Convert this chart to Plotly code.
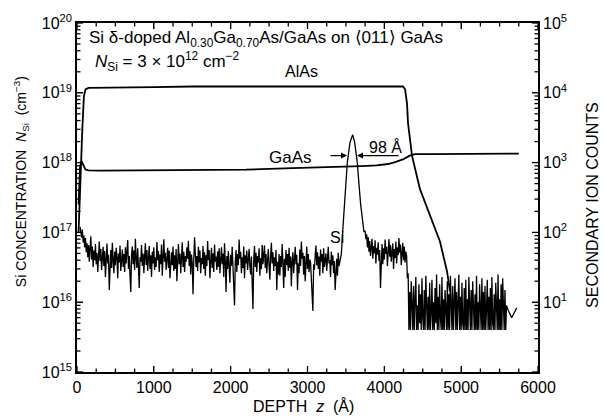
import math
import plotly.graph_objects as go

# ---------------- data ----------------
# AlAs secondary-ion profile (depth in Angstrom, log10 of equivalent concentration)
alas_z = [20, 45, 70, 90, 110, 150, 300, 600, 1000, 1500, 2000, 2500, 3000, 3500, 3800,
          4000, 4200, 4243, 4270, 4295, 4308, 4360, 4464, 4594, 4724, 4816, 4854]
alas_log = [17.0, 17.9, 18.5, 18.95, 19.05, 19.07, 19.07, 19.08, 19.08, 19.09, 19.09, 19.10,
            19.10, 19.10, 19.09, 19.10, 19.10, 19.09, 19.05, 18.85, 18.57, 18.10, 17.62,
            17.25, 16.87, 16.44, 16.16]

# GaAs secondary-ion profile
gaas_z = [20, 40, 60, 80, 110, 150, 300, 800, 1500, 2200, 2800, 3200, 3500, 3700, 3900,
          4050, 4150, 4250, 4330, 4400, 4600, 5000, 5300, 5500, 5750]
gaas_log = [17.4, 17.95, 18.02, 17.98, 17.90, 17.89, 17.885, 17.89, 17.90, 17.90, 17.92,
            17.93, 17.94, 17.95, 17.96, 17.98, 18.01, 18.05, 18.10, 18.12, 18.12, 18.12,
            18.13, 18.12, 18.13]

# Si concentration, units of 1e16 cm^-3
si_left_z0, si_left_step = 40, 10          # 40 ... 3430 A
si_left = [12, 10.5, 8.4, 11, 7.2, 9.0, 6.1, 8.3, 5.2, 7.0, 4.4, 6.6, 3.8, 5.9, 8.8, 4.1, 6.3, 3.2, 5.5, 4.0,
           6.8, 3.5, 5.1, 2.7, 4.6, 7.4, 3.9, 5.8, 2.9, 4.9, 6.2, 3.3, 5.4, 2.3, 4.2, 6.9, 3.6, 4.8, 1.5, 3.9,
           5.6, 3.1, 7.1, 4.0, 2.6, 5.3, 3.4, 6.0, 4.5, 2.2, 5.0, 3.7, 6.5, 2.8, 4.3, 5.7, 3.2, 4.9, 2.7, 6.1,
           3.6, 5.2, 7.8, 3.0, 4.6, 2.4, 1.4, 4.8, 6.3, 3.5, 5.5, 2.9, 8.1, 4.2, 3.1, 5.9, 2.5, 1.6, 4.4, 3.8,
           6.6, 3.3, 5.0, 2.6, 4.5, 7.0, 3.4, 5.6, 2.8, 4.1, 6.4, 3.0, 4.7, 2.3, 5.3, 3.6, 6.1, 2.9, 4.4, 3.2,
           7.3, 4.0, 5.4, 2.7, 4.8, 3.5, 6.7, 2.4, 4.3, 8.0, 3.8, 5.1, 2.9, 4.6, 6.0, 3.1, 5.5, 2.2, 4.0, 5.2,
           3.4, 6.3, 2.8, 4.7, 3.0, 5.8, 2.0, 4.4, 6.8, 3.5, 5.0, 2.6, 4.1, 7.2, 3.2, 5.3, 2.7, 4.6, 3.8, 6.1,
           4.2, 7.6, 3.3, 5.4, 2.5, 4.8, 3.6, 1.3, 4.1, 8.5, 5.0, 3.2, 4.6, 2.8, 6.2, 3.7, 5.5, 2.6, 4.3, 3.5,
           6.4, 3.0, 5.2, 2.4, 4.7, 3.3, 7.5, 4.0, 5.6, 2.2, 3.9, 6.0, 3.1, 5.0, 2.7, 6.7, 3.8, 4.5, 2.9, 5.3,
           3.2, 5.9, 2.6, 4.4, 6.1, 3.5, 5.0, 2.3, 7.0, 3.9, 1.4, 4.6, 3.0, 5.4, 2.4, 1.9, 4.8, 3.3, 6.2, 3.6,
           1.7, 0.9, 3.8, 5.6, 2.7, 4.9, 3.4, 7.9, 4.2, 5.3, 2.6, 4.4, 3.1, 6.3, 2.2, 4.7, 3.6, 5.5, 2.9, 4.0,
           5.8, 3.3, 2.5, 4.5, 1.8, 0.8, 4.0, 6.4, 3.2, 5.1, 2.7, 4.6, 3.7, 5.9, 2.4, 4.3, 3.0, 6.6, 3.5, 4.8,
           6.5, 3.1, 4.9, 2.6, 4.2, 5.8, 3.4, 2.1, 4.5, 7.1, 3.6, 5.2, 2.8, 4.4, 3.3, 5.6, 1.5, 3.8, 2.5, 4.9,
           2.4, 4.6, 3.2, 6.8, 3.7, 1.6, 4.2, 2.3, 5.6, 3.4, 4.9, 2.8, 6.0, 3.1, 4.5, 1.7, 3.9, 5.2, 2.6, 4.3,
           6.2, 3.5, 4.8, 1.5, 3.6, 2.6, 5.7, 3.3, 7.4, 4.2, 5.1, 2.5, 4.6, 2.0, 3.8, 6.3, 3.0, 4.9, 2.7, 4.1,
           3.7, 2.2, 1.2, 0.75, 3.5, 2.9, 4.7, 6.5, 3.4, 5.2, 3.0, 4.5, 2.4, 5.7, 3.8, 4.9, 2.6, 5.9, 3.2, 4.4,
           5.0, 2.8, 4.6, 6.2, 3.6, 4.0, 2.3, 5.3, 3.4, 4.7, 2.6, 3.9, 1.5, 3.0, 4.2, 2.4, 5.1, 3.3, 4.0, 4.4]
si_peak_z = [3440, 3466, 3497, 3518, 3553, 3588, 3614, 3648, 3675, 3692, 3735]
si_peak = [4.9, 14, 42, 100, 195, 250, 195, 100, 42, 25, 10.2]
si_mid_z0, si_mid_step = 3750, 10          # 3750 ... 4300 A
si_mid = [10.5, 8.0, 9.4, 6.1, 8.6, 5.3, 7.5, 4.6, 6.9, 8.1, 4.2, 6.4, 5.0, 7.7, 3.6, 6.0, 4.8, 7.2, 3.9, 5.6,
          1.6, 4.4, 6.8, 3.5, 5.9, 4.1, 7.9, 4.9, 6.3, 3.3, 5.4, 8.0, 4.5, 6.6, 3.8, 5.2, 7.0, 3.0, 5.8, 4.3,
          7.4, 3.6, 6.1, 4.7, 8.3, 5.1, 6.7, 3.4, 5.5, 7.1, 4.0, 6.2, 3.7, 5.3, 4.6, 2.2]
si_right_z0, si_right_step = 4310, 10      # 4310 ... 5590 A
si_right = [2.6, 0.4, 1.4, 0.4, 2.0, 0.7, 0.4, 1.7, 0.4, 1.1, 2.3, 0.4, 0.9, 0.4, 1.8, 0.5, 1.3, 0.4, 2.2, 0.6,
            0.4, 1.5, 0.4, 2.4, 0.8, 0.4, 1.2, 0.4, 1.9, 0.4, 0.7, 2.1, 0.4, 1.0, 0.4, 1.6, 0.5, 2.5, 0.4, 1.2,
            0.4, 1.8, 0.6, 0.4, 2.3, 0.4, 1.1, 0.4, 1.5, 0.9, 0.4, 2.0, 0.4, 1.3, 0.4, 2.4, 0.7, 0.4, 1.7, 0.4,
            1.0, 2.2, 0.4, 1.4, 0.4, 0.8, 2.5, 0.4, 1.2, 0.4, 1.9, 0.5, 0.4, 1.6, 0.4, 2.1, 0.4, 1.1, 0.4, 2.3,
            0.6, 0.4, 1.5, 0.4, 2.0, 0.9, 0.4, 1.3, 0.4, 2.4, 0.4, 1.0, 0.4, 1.8, 0.6, 0.4, 2.2, 0.4, 1.4, 0.4,
            1.7, 0.4, 0.8, 2.1, 0.4, 1.2, 0.4, 1.6, 0.4, 2.3, 0.5, 0.4, 1.3, 0.4, 1.9, 0.7, 0.4, 2.5, 0.4, 1.1,
            0.4, 1.8, 0.4, 2.2, 0.6, 0.4, 1.5, 0.4, 0.9]
si_tail_z = [5613, 5658, 5723]
si_tail = [0.76, 0.60, 0.83]

x_ticks = [0, 1000, 2000, 3000, 4000, 5000, 6000]
x_minor_step = 250
y_exps = [15, 16, 17, 18, 19, 20]
y2_exps = [1, 2, 3, 4, 5]

# ---------------- assemble ----------------
def grid(z0, step, vals):
    return [z0 + i * step for i in range(len(vals))]

si_z = (grid(si_left_z0, si_left_step, si_left) + si_peak_z +
        grid(si_mid_z0, si_mid_step, si_mid) + grid(si_right_z0, si_right_step, si_right) +
        si_tail_z)
si_v = [v * 1e16 for v in (si_left + si_peak + si_mid + si_right + si_tail)]

FONT = "Liberation Sans, Arial, Helvetica, sans-serif"
fig = go.Figure()
fig.add_trace(go.Scatter(x=alas_z, y=[10.0 ** v for v in alas_log], mode="lines",
                         line=dict(color="black", width=1.8), hoverinfo="skip"))
fig.add_trace(go.Scatter(x=gaas_z, y=[10.0 ** v for v in gaas_log], mode="lines",
                         line=dict(color="black", width=1.8), hoverinfo="skip"))
fig.add_trace(go.Scatter(x=si_z, y=si_v, mode="lines",
                         line=dict(color="black", width=1.3), hoverinfo="skip"))
fig.add_trace(go.Scatter(x=[None], y=[None], yaxis="y2", showlegend=False))

tfont = dict(family=FONT, size=16, color="black")
ax_common = dict(showline=True, linecolor="black", linewidth=1.6, ticks="inside", ticklen=6,
                 tickwidth=1.4, tickcolor="black", showgrid=False, zeroline=False, tickfont=tfont)

X0, X1 = 0, 6000
Y0, Y1 = 15, 20
fig.update_layout(
    width=605, height=418,
    margin=dict(l=77, r=67, t=19, b=46),
    plot_bgcolor="white", paper_bgcolor="white",
    showlegend=False,
    font=dict(family=FONT, size=15, color="black"),
    xaxis=dict(range=[X0, X1], tickmode="array", tickvals=x_ticks, mirror="ticks", **ax_common),
    yaxis=dict(type="log", range=[Y0, Y1], tickmode="array", tickvals=[10.0 ** e for e in y_exps],
               ticktext=[f"10<sup>{e}</sup>" for e in y_exps], **ax_common),
    yaxis2=dict(type="log", range=[0, 5], overlaying="y", side="right", anchor="x",
                tickmode="array", tickvals=[10.0 ** e for e in y2_exps],
                ticktext=[f"10<sup>{e}</sup>" for e in y2_exps], **ax_common),
)

# ---- tick marks drawn explicitly (inside, on all four sides) ----
PW, PH = 605 - 77 - 67, 418 - 19 - 46
def tick_line(**kw):
    fig.add_shape(type="line", line=dict(color="black", width=1.3), layer="above", **kw)

for v in range(X0, X1 + 1, x_minor_step):
    L = 6 if v in x_ticks else 3.5
    for yb, yt in ((0, L / PH), (1, 1 - L / PH)):
        tick_line(xref="x", yref="paper", x0=v, x1=v, y0=yb, y1=yt)

for k in range(Y0, Y1 + 1):
    for m in range(1, 10):
        if k == Y1 and m > 1:
            break
        p = (k + math.log10(m) - Y0) / (Y1 - Y0)
        L = 6 if m == 1 else 3.5
        for xa, xb in ((0, L / PW), (1, 1 - L / PW)):
            tick_line(xref="paper", yref="paper", x0=xa, x1=xb, y0=p, y1=p)

def ann(x, y, text, size=16, xanchor="center", xref="x", yref="y", angle=0):
    fig.add_annotation(x=x, y=y, xref=xref, yref=yref, text=text, showarrow=False,
                       xanchor=xanchor, yanchor="middle", textangle=angle,
                       font=dict(family=FONT, size=size, color="black"))

ann(130, 19.77, "Si δ-doped Al<sub>0.30</sub>Ga<sub>0.70</sub>As/GaAs on ⟨011⟩ GaAs", size=17, xanchor="left")
ann(208, 19.45, "<i>N</i><sub>Si</sub> = 3 × 10<sup>12</sup> cm<sup>−2</sup>", size=17, xanchor="left")
ann(2928, 19.31, "AlAs", size=16)
ann(2785, 18.07, "GaAs", size=17)
ann(3384, 16.92, "Si", size=16)
ann(4009, 18.23, "98 Å", size=16)

# width arrows
fig.add_annotation(x=3514, y=18.10, ax=3280, ay=18.10, xref="x", yref="y", axref="x", ayref="y",
                   text="", showarrow=True, arrowhead=2, arrowsize=1, arrowwidth=1.2, arrowcolor="black")
fig.add_annotation(x=3644, y=18.10, ax=4204, ay=18.10, xref="x", yref="y", axref="x", ayref="y",
                   text="", showarrow=True, arrowhead=2, arrowsize=1, arrowwidth=1.2, arrowcolor="black")

# axis titles
ann((21 - 77) / 461, (372 - 180) / 353, "Si CONCENTRATION  <i>N</i><sub>Si</sub>  (cm<sup>−3</sup>)",
    size=14, xref="paper", yref="paper", angle=-90)
ann((593 - 77) / 461, (372 - 203) / 353, "SECONDARY ION COUNTS", size=16,
    xref="paper", yref="paper", angle=-90)
ann((303 - 77) / 461, (372 - 406) / 353, "DEPTH  <i>z</i>  (Å)", size=16, xref="paper", yref="paper")

fig.write_html("out.html")
